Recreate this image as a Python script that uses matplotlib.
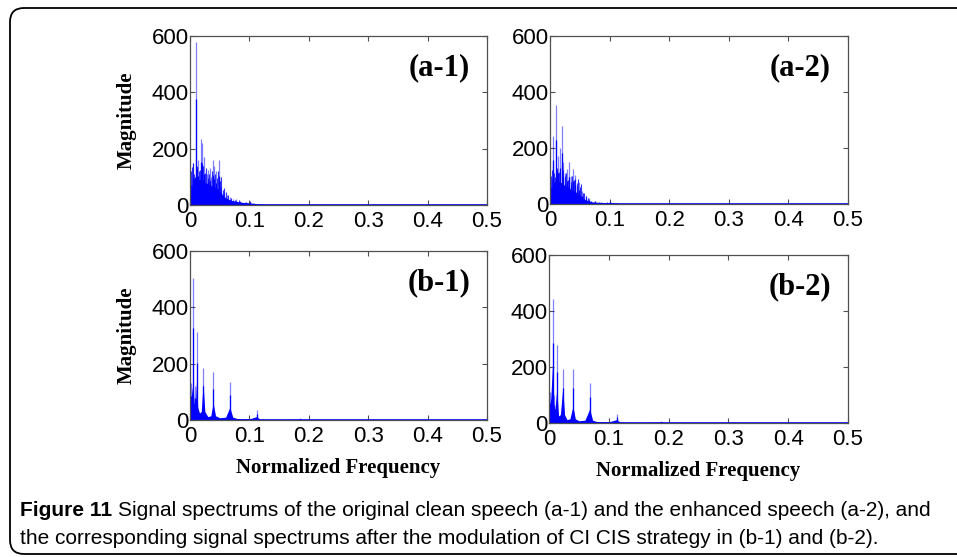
import matplotlib
matplotlib.use('Agg')
import matplotlib.pyplot as plt
from matplotlib.patches import FancyBboxPatch
from matplotlib.transforms import IdentityTransform

W, H = 957, 557

# ---- data (normalized frequency, magnitude) ----
# (a-1) clean speech: main peaks, finer lines and dense base envelope
a1_freq = [0.0045, 0.0096, 0.014, 0.018, 0.021, 0.024, 0.028, 0.031, 0.033, 0.036,
           0.038, 0.041, 0.044, 0.048, 0.049, 0.053, 0.058, 0.062, 0.067, 0.072,
           0.078, 0.085, 0.092, 0.101, 0.108, 0.118]
a1_mag = [148, 578, 160, 234, 220, 170, 110, 124, 130, 100,
          160, 140, 120, 100, 160, 65, 45, 35, 30, 22,
          20, 14, 12, 15, 8, 5]
a1_fine_f = [0.001, 0.0025, 0.0035, 0.0055, 0.007, 0.008, 0.0115, 0.0125, 0.0155, 0.017,
             0.0195, 0.0225, 0.0255, 0.027, 0.0295, 0.032, 0.0345, 0.037, 0.0395, 0.0425,
             0.0455, 0.047, 0.0505, 0.0515, 0.055, 0.0565, 0.060, 0.064, 0.069, 0.075,
             0.082, 0.095]
a1_fine_m = [70, 120, 135, 150, 110, 100, 140, 130, 120, 125,
             150, 140, 115, 130, 95, 110, 90, 120, 105, 110,
             95, 120, 85, 100, 55, 60, 45, 35, 25, 18,
             16, 10]
a1_env_f = [0, 0.002, 0.005, 0.010, 0.015, 0.020, 0.025, 0.030, 0.035, 0.040, 0.045,
            0.050, 0.055, 0.060, 0.065, 0.070, 0.080, 0.090, 0.100, 0.110, 0.120,
            0.130, 0.150, 0.500]
a1_env_m = [0, 50, 90, 100, 90, 95, 80, 75, 70, 65, 60,
            50, 35, 25, 20, 16, 12, 9, 8, 5, 3,
            1, 0.5, 0]

# (a-2) enhanced speech
a2_freq = [0.0030, 0.0056, 0.0096, 0.013, 0.016, 0.0197, 0.022, 0.025, 0.028, 0.0325,
           0.036, 0.039, 0.042, 0.046, 0.049, 0.054, 0.060, 0.066, 0.075, 0.085,
           0.101, 0.110]
a2_mag = [90, 243, 354, 170, 200, 280, 150, 110, 125, 149,
          100, 125, 105, 65, 77, 45, 30, 20, 12, 8,
          10, 4]
a2_fine_f = a1_fine_f
a2_fine_m = [60, 100, 120, 140, 110, 95, 130, 120, 115, 110,
             135, 120, 100, 110, 85, 95, 80, 100, 85, 90,
             75, 90, 60, 70, 40, 40, 30, 20, 12, 9,
             8, 6]
a2_env_f = [0, 0.003, 0.006, 0.010, 0.015, 0.020, 0.025, 0.030, 0.035, 0.040, 0.045,
            0.050, 0.055, 0.060, 0.070, 0.080, 0.100, 0.110, 0.120, 0.500]
a2_env_m = [0, 40, 75, 85, 80, 75, 65, 60, 52, 48, 40,
            30, 22, 14, 8, 6, 5, 3, 1, 0]

# (b-1) after CI CIS modulation of clean speech
b1_freq = [0.0020, 0.0056, 0.0080, 0.011, 0.0224, 0.039, 0.067, 0.112, 0.186, 0.308]
b1_mag = [130, 503, 120, 313, 186, 170, 136, 35, 6, 3]
b1_env_f = [0, 0.001, 0.003, 0.005, 0.007, 0.009, 0.011, 0.013, 0.016, 0.019, 0.022,
            0.025, 0.030, 0.035, 0.039, 0.043, 0.050, 0.060, 0.067, 0.072, 0.080,
            0.100, 0.112, 0.118, 0.140, 0.186, 0.200, 0.308, 0.320, 0.500]
b1_env_m = [0, 60, 100, 130, 60, 55, 140, 45, 25, 30, 130,
            30, 12, 15, 60, 15, 8, 10, 45, 10, 5,
            4, 12, 3, 1, 3, 0.5, 1.5, 0, 0]

# (b-2) after CI CIS modulation of enhanced speech
b2_freq = [0.0020, 0.0062, 0.0090, 0.013, 0.023, 0.040, 0.068, 0.113, 0.188, 0.310]
b2_mag = [110, 442, 100, 279, 193, 193, 142, 32, 6, 3]
b2_env_f = [0, 0.001, 0.003, 0.006, 0.008, 0.010, 0.013, 0.016, 0.019, 0.023,
            0.026, 0.030, 0.035, 0.040, 0.044, 0.050, 0.060, 0.068, 0.073, 0.080,
            0.100, 0.113, 0.119, 0.140, 0.188, 0.200, 0.310, 0.320, 0.500]
b2_env_m = [0, 55, 90, 215, 55, 50, 120, 25, 30, 125,
            30, 12, 15, 60, 15, 8, 10, 50, 10, 5,
            4, 12, 3, 1, 3, 0.5, 1.5, 0, 0]

panels = [
    ('(a-1)', a1_freq, a1_mag, a1_fine_f, a1_fine_m, a1_env_f, a1_env_m, (190, 36, 297, 169), True, False),
    ('(a-2)', a2_freq, a2_mag, a2_fine_f, a2_fine_m, a2_env_f, a2_env_m, (550, 36, 298, 168), False, False),
    ('(b-1)', b1_freq, b1_mag, [], [], b1_env_f, b1_env_m, (190, 251, 297, 169), True, True),
    ('(b-2)', b2_freq, b2_mag, [], [], b2_env_f, b2_env_m, (549, 255, 299, 168), False, True),
]

xticks = [0, 0.1, 0.2, 0.3, 0.4, 0.5]
xticklabels = ['0', '0.1', '0.2', '0.3', '0.4', '0.5']
yticks = [0, 200, 400, 600]
yticklabels = ['0', '200', '400', '600']

fig = plt.figure(figsize=(W / 100, H / 100), dpi=100)
blue = (0, 0, 1)
frame = '#505050'
serif = ['Liberation Serif', 'DejaVu Serif']

for tag, pf, pm, ff, fm, ef, em, (px, py, pw, ph), ylab, xlab in panels:
    ax = fig.add_axes([px / W, (H - py - ph) / H, pw / W, ph / H])
    ax.fill_between(ef, 0, em, color=blue, lw=0)
    if ff:
        ax.vlines(ff, 0, fm, color=blue, lw=0.8, alpha=0.8)
    ax.vlines(pf, 0, pm, color=blue, lw=0.9, alpha=0.5)
    ax.vlines(pf, 0, [m * 0.65 for m in pm], color=blue, lw=0.9)
    ax.plot([0, 0.5], [0, 0], color=blue, lw=1.2)
    ax.set_xlim(0, 0.5)
    ax.set_ylim(0, 600)
    ax.set_xticks(xticks)
    ax.set_xticklabels(xticklabels)
    ax.set_yticks(yticks)
    ax.set_yticklabels(yticklabels)
    for s in ax.spines.values():
        s.set_color(frame)
        s.set_linewidth(0.9)
    ax.tick_params(direction='in', top=True, right=True, length=3.5, width=0.8,
                   color=frame, labelsize=16, labelcolor='black')
    ax.tick_params(axis='x', pad=4)
    ax.tick_params(axis='y', pad=1)
    for lbl in ax.get_xticklabels() + ax.get_yticklabels():
        lbl.set_family(['Liberation Sans', 'DejaVu Sans'])
    ax.text(0.84, 0.81, tag, transform=ax.transAxes, ha='center', va='center',
            fontsize=22, fontweight='bold', family=serif)
    if ylab:
        ax.set_ylabel('Magnitude', fontsize=15, fontweight='bold', family=serif, labelpad=11)
    if xlab:
        ax.set_xlabel('Normalized Frequency', fontsize=15, fontweight='bold',
                      family=serif, labelpad=8)

# rounded figure border (runs off the right edge)
box = FancyBboxPatch((10, 3), 970, 546, boxstyle='round,pad=0,rounding_size=14',
                     transform=IdentityTransform(), fill=False, ec='black', lw=1.3)
fig.patches.append(box)

cap_font = ['Liberation Sans', 'DejaVu Sans']
line1 = 'Signal spectrums of the original clean speech (a-1) and the enhanced speech (a-2), and'
line2 = 'the corresponding signal spectrums after the modulation of CI CIS strategy in (b-1) and (b-2).'
t = fig.text(20 / W, 1 - 511 / H, 'Figure 11 ', fontsize=15, fontweight='bold',
             family=cap_font, va='center', ha='left')
fig.canvas.draw()
bb = t.get_window_extent()
fig.text(bb.x1 / W, 1 - 511 / H, line1, fontsize=15, family=cap_font,
         va='center', ha='left')
fig.text(20 / W, 1 - 538 / H, line2, fontsize=15, family=cap_font,
         va='center', ha='left')

fig.savefig('out.png', dpi=100)
